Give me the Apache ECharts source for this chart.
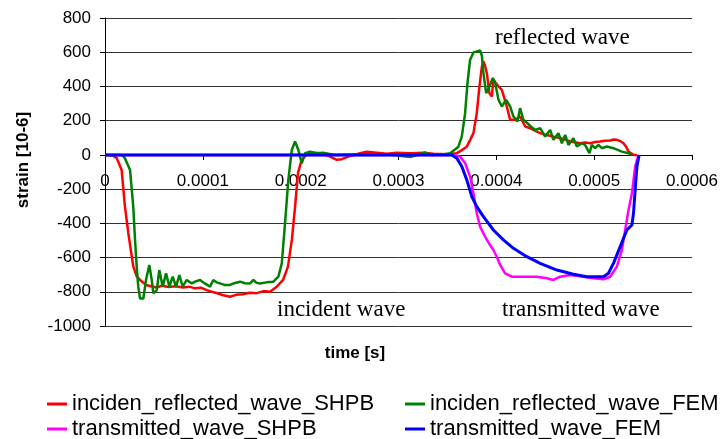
<!DOCTYPE html>
<html>
<head>
<meta charset="utf-8">
<script src="https://cdn.jsdelivr.net/npm/echarts@6/dist/echarts.min.js"></script>
<style>
  html, body { margin: 0; padding: 0; background: #ffffff; }
  #chart { width: 721px; height: 439px; }
</style>
</head>
<body>
<div id="chart"></div>
<script>
// Time is stored in microseconds, strain in 10^-6.
const xTickLabels = ['0', '0.0001', '0.0002', '0.0003', '0.0004', '0.0005', '0.0006'];
const seriesNames = [
  'inciden_reflected_wave_SHPB',
  'inciden_reflected_wave_FEM',
  'transmitted_wave_SHPB',
  'transmitted_wave_FEM'
];
const seriesColors = ['#ff0000', '#008000', '#ff00ff', '#0000ff'];

// incident + reflected pulse, bar measurement
const incShpbTime = [0, 8, 12, 17, 20.4, 23.8, 28.9, 32.4, 35.8, 42, 47, 52.9, 58, 65, 72, 79.8, 86, 92, 98, 104, 109, 114, 121,
  127.8, 134, 141, 148, 155, 162, 168.7, 175.6, 182, 187, 191, 194.3, 197.3, 201, 206, 212.7, 219.8, 230, 236.9, 242, 248.8,
  257.4, 260.7, 267.6, 277.8, 288, 298.3, 311.9, 325.5, 335.7, 349.4, 359.6, 364, 369.8, 373, 376.6, 380, 382.7, 385.2,
  386.8, 388.5, 390.3, 392.9, 395.4, 397, 399.5, 402.2, 405.6, 410.7, 414.1, 419.2, 424.3, 429.5, 434.6, 440, 444.8,
  450, 455, 460, 465.2, 470, 475.5, 480, 485.7, 491, 495.9, 501, 506.1, 511, 516.3, 520, 523.2, 527, 530, 533, 535.1, 540.2, 543.7];
const incShpbStrain = [0, -3, -19, -88, -302, -456, -652, -710, -731, -760, -768, -775, -765, -772, -768, -775, -770, -780, -776, -790, -800, -807, -820,
  -829, -818, -814, -806, -808, -796, -800, -770, -731, -653, -497, -302, -105, -29, 0, 13, 10, -10, -29, -25, -10,
  4, 10, 19, 13, 6, 13, 10, 13, 6, 4, 10, 25, 48, 85, 127, 244, 398, 515,
  546, 520, 478, 361, 341, 439, 420, 400, 380, 283, 205, 205, 224, 166, 156, 140, 127,
  118, 112, 104, 98, 90, 78, 74, 68, 72, 68, 75, 78, 82, 84, 90, 88, 80, 68, 45, 19, 0, 0];

// incident + reflected pulse, finite element model
const incFemTime = [0, 15, 18, 20.4, 25.6, 28.9, 30.7, 32.4, 34, 35.8, 39.2, 41.9, 45.3, 47.8, 49.4, 52.9, 55.5, 59, 62.4,
  65.8, 69.2, 72.6, 76, 79.4, 83.5, 88.7, 92, 97.1, 102, 107.4, 110.7, 114, 117.6, 122, 127.8, 132, 138, 143, 148.3,
  151.7, 155, 158.5, 165, 172.1, 177.2, 180.7, 184, 187.4, 190.9, 194.3, 197.6, 201.1, 204.5, 209.6, 216, 222.9, 235,
  260, 290, 312, 320, 327, 333, 345, 352.8, 361.2, 364.7, 368.1, 370.5, 373.2, 376.6, 380, 383.4, 385.2, 386.8, 389.6,
  392.9, 396.4, 398.8, 402.2, 405.6, 410, 414.1, 417.5, 421.6, 424.3, 427.7, 431.8, 435.3, 439.7, 444.8, 449.9, 455,
  458.4, 463.5, 467, 470.4, 473.7, 478.8, 482.3, 487.4, 490.7, 495.2, 497.6, 501, 504.4, 507.9, 512.9, 519.7, 528.3,
  535.1, 538.6];
const incFemStrain = [0, 0, -5, -19, -88, -302, -497, -653, -770, -839, -839, -731, -643, -731, -809, -790, -673, -770, -692,
  -770, -712, -770, -702, -770, -731, -751, -741, -731, -751, -770, -731, -745, -751, -760, -760, -750, -741, -750, -751,
  -731, -748, -751, -745, -741, -712, -634, -400, -146, 29, 78, 29, -49, 10, 19, 10, 12, 0,
  4, 2, -12, 0, 15, 0, 3, 10, 48, 107, 244, 419, 556, 599, 605, 610, 580, 478, 361,
  400, 449, 420, 322, 283, 322, 283, 224, 195, 273, 205, 185, 166, 146, 156, 107, 146,
  88, 127, 68, 117, 58, 98, 49, 68, 58, 10, 58, 39, 58, 39, 49, 39, 19,
  10, 0];

// transmitted pulse, bar measurement
const trShpbTime = [0, 356.1, 363, 368.1, 373.2, 376.6, 380, 383.4, 388.5, 393.6, 397, 400.5, 403.9, 409, 415.9, 427.7,
  441.4, 451.6, 458.4, 465.2, 475.5, 489.1, 499.3, 509.5, 516.3, 523.2, 528.3, 531.7, 535.1, 538.6, 541.9, 545.3];
const trShpbStrain = [0, 0, -10, -49, -127, -224, -341, -419, -478, -527, -556, -595, -643, -692, -712, -712,
  -712, -721, -731, -712, -702, -712, -721, -727, -712, -653, -556, -439, -322, -224, -68, 0];

// transmitted pulse, finite element model
const trFemTime = [0, 354.5, 359.6, 364.7, 369.8, 374.9, 380, 386.8, 397, 407.2, 417.5, 431.2, 444.8, 461.9, 478.8, 492.5,
  509.5, 514.6, 519.7, 526.6, 533.4, 538.6, 540.2, 541.9, 543.7, 546];
const trFemStrain = [0, 0, -19, -68, -146, -244, -302, -361, -439, -497, -546, -595, -634, -673, -698, -712,
  -712, -692, -634, -536, -439, -410, -341, -205, -68, 0];

const seriesTimes = [incShpbTime, incFemTime, trShpbTime, trFemTime];
const seriesStrains = [incShpbStrain, incFemStrain, trShpbStrain, trFemStrain];
const lineWidths = [2.5, 2.5, 2.5, 3];

const series = seriesNames.map((name, i) => ({
  name: name,
  type: 'line',
  showSymbol: false,
  symbol: 'none',
  data: seriesTimes[i].map((t, k) => [t, seriesStrains[i][k]]),
  lineStyle: { color: seriesColors[i], width: lineWidths[i] },
  itemStyle: { color: seriesColors[i] },
  z: 2 + i
}));

const legendPos = [
  { left: 47, top: 393 },
  { left: 405, top: 393 },
  { left: 47, top: 418 },
  { left: 405, top: 418 }
];
const legends = seriesNames.map((name, i) => ({
  data: [name],
  left: legendPos[i].left,
  top: legendPos[i].top,
  icon: 'rect',
  itemWidth: 20,
  itemHeight: 3,
  padding: 0,
  selectedMode: false,
  textStyle: { fontFamily: 'Liberation Sans, Arial, sans-serif', fontSize: 22, color: '#000' }
}));

const serifText = { fontFamily: 'Liberation Serif, Times New Roman, serif', fontSize: 23, fill: '#000' };
const boldText = { fontFamily: 'Liberation Sans, Arial, sans-serif', fontSize: 17, fontWeight: 'bold', fill: '#000' };

const chart = echarts.init(document.getElementById('chart'), null, { renderer: 'canvas' });
chart.setOption({
  animation: false,
  backgroundColor: '#ffffff',
  grid: { left: 105, right: 29, top: 18, bottom: 113, containLabel: false },
  xAxis: {
    type: 'value',
    min: 0,
    max: 600,
    interval: 100,
    // the time axis sits on the zero-strain line
    offset: -171,
    axisLine: { show: true, onZero: false, lineStyle: { color: '#000', width: 1 } },
    axisTick: { show: true, length: 5, inside: false, lineStyle: { color: '#000' } },
    axisLabel: {
      margin: 18,
      fontFamily: 'Liberation Sans, Arial, sans-serif',
      fontSize: 17,
      color: '#000',
      formatter: v => xTickLabels[Math.round(v / 100)]
    },
    splitLine: { show: false }
  },
  yAxis: {
    type: 'value',
    min: -1000,
    max: 800,
    interval: 200,
    axisLine: { show: true, onZero: false, lineStyle: { color: '#000', width: 1 } },
    axisTick: { show: true, length: 5, lineStyle: { color: '#000' } },
    axisLabel: {
      margin: 14,
      fontFamily: 'Liberation Sans, Arial, sans-serif',
      fontSize: 17,
      color: '#000',
      formatter: v => String(v)
    },
    splitLine: { show: true, lineStyle: { color: '#333', width: 1 } }
  },
  legend: legends,
  graphic: [
    { type: 'text', left: 495, top: 26, style: Object.assign({ text: 'reflected wave' }, serifText) },
    { type: 'text', left: 277, top: 298, style: Object.assign({ text: 'incident wave' }, serifText) },
    { type: 'text', left: 502, top: 298, style: Object.assign({ text: 'transmitted wave' }, serifText) },
    {
      type: 'text', x: 355, y: 353,
      style: Object.assign({ text: 'time [s]', align: 'center', verticalAlign: 'middle' }, boldText)
    },
    {
      type: 'text', x: 23, y: 160, rotation: Math.PI / 2,
      style: Object.assign({ text: 'strain [10-6]', align: 'center', verticalAlign: 'middle' }, boldText)
    }
  ],
  series: series
});
</script>
</body>
</html>
